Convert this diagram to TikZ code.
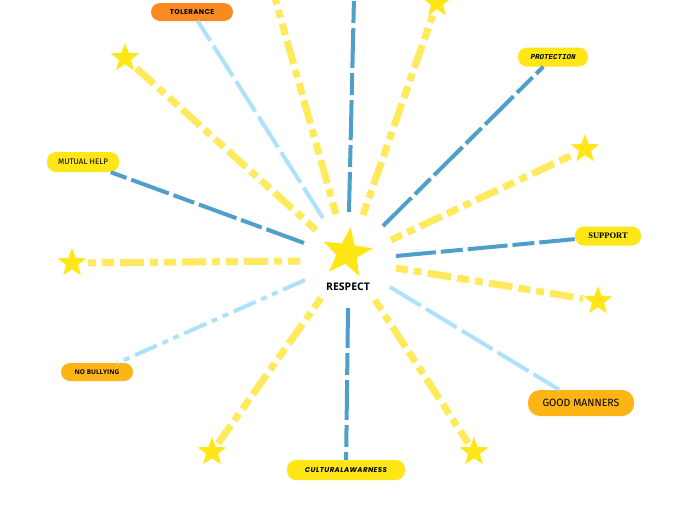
\documentclass[tikz,border=0pt]{standalone}
\usepackage{fontspec}
\setmainfont{Open Sans}
\newfontfamily\heavyfont[LetterSpace=6]{Poppins}
\newfontfamily\monofnt{Liberation Mono}
\newfontfamily\seriffnt{Liberation Serif}
\newfontfamily\handfnt{Fira Sans}
\usetikzlibrary{shapes.geometric}
\definecolor{ystar}{HTML}{FFE617}
\definecolor{ydash}{HTML}{FFE95C}
\definecolor{dblue}{HTML}{4F9FCB}
\definecolor{lblue}{HTML}{AEE2FA}
\definecolor{orng}{HTML}{F78B1F}
\definecolor{gold}{HTML}{FDB515}
\begin{document}
\begin{tikzpicture}[x=1pt,y=-1pt,
  pill/.style={rounded corners=9pt, inner sep=0pt, minimum height=19pt, text=black},
  starnode/.style={star, star points=5, star point ratio=2.4, fill=ystar, draw=none, minimum size=30pt, inner sep=0pt},
  yline/.style={ydash, line width=7pt, dash pattern=on 12pt off 6pt on 8pt off 6pt on 24pt off 6pt},
  dline/.style={dblue, line width=4pt, dash pattern=on 40pt off 5pt on 22pt off 5pt},
  lline/.style={lblue, line width=4pt, dash pattern=on 36pt off 6pt},
  dotline/.style={lblue, line width=4pt, dash pattern=on 24pt off 6pt on 6pt off 6pt on 6pt off 6pt},
]
\clip (0,0) rectangle (696,520);
\fill[white] (0,0) rectangle (696,520);

% centre
\node[star, star points=5, star point ratio=2.4, fill=ystar, minimum size=52pt, inner sep=0pt, rotate=-8] (c) at (347,253) {};
\node[font=\bfseries\fontsize{10.5}{12}\selectfont] (resp) at (348,287) {RESPECT};

% pills
\node[pill, fill=orng, minimum width=82pt, minimum height=18pt, font=\heavyfont\bfseries\fontsize{7}{8}\selectfont] (tol) at (192,12) {TOLERANCE};
\node[pill, fill=ystar, minimum width=70pt, font=\monofnt\bfseries\itshape\fontsize{7.5}{8}\selectfont] (prot) at (553,57) {PROTECTION};
\node[pill, fill=ystar, minimum width=66pt, font=\seriffnt\bfseries\fontsize{8.5}{9}\selectfont] (supp) at (608,236) {SUPPORT};
\node[pill, fill=gold, minimum width=106pt, minimum height=26pt, rounded corners=12pt, font=\handfnt\fontsize{10.5}{11}\selectfont] (good) at (581,403) {GOOD MANNERS};
\node[pill, fill=ystar, minimum width=118pt, minimum height=20pt, font=\heavyfont\bfseries\itshape\fontsize{7}{8}\selectfont] (cult) at (346,470) {CULTURALAWARNESS};
\node[pill, fill=gold, minimum width=72pt, minimum height=18pt, font=\bfseries\fontsize{6.5}{7}\selectfont] (nob) at (97,372) {NO BULLYING};
\node[pill, fill=ystar, minimum width=72pt, minimum height=20pt, font=\handfnt\fontsize{8}{9}\selectfont] (mut) at (83,162) {MUTUAL HELP};

% outer stars
\node[starnode] (s1) at (437,3) {};
\node[starnode] (s2) at (585,149) {};
\node[starnode] (s3) at (598,301) {};
\node[starnode] (s4) at (474,452) {};
\node[starnode] (s5) at (212,452) {};
\node[starnode] (s6) at (72,263) {};
\node[starnode] (s7) at (125,58) {};
\coordinate (topy) at (275,-2);
\coordinate (topb) at (354,-2);

% inner start points
\coordinate (i1) at (323,218);
\coordinate (i2) at (336,214);
\coordinate (i3) at (349,212);
\coordinate (i4) at (363,215);
\coordinate (i5) at (383,226);
\coordinate (i6) at (391,240);
\coordinate (i7) at (396,256);
\coordinate (i8) at (396,268);
\coordinate (i9) at (390,287);
\coordinate (i10) at (375,300);
\coordinate (i11) at (348,308);
\coordinate (i12) at (321,298);
\coordinate (i13) at (305,280);
\coordinate (i14) at (300,261);
\coordinate (i15) at (304,243);
\coordinate (i16) at (316,230);

% connectors
\draw[lline] (i1) -- (tol);
\draw[yline] (i2) -- (topy);
\draw[dline] (i3) -- (topb);
\draw[yline, shorten >=4pt] (i4) -- (s1);
\draw[dline] (i5) -- (prot);
\draw[yline, shorten >=4pt] (i6) -- (s2);
\draw[dline] (i7) -- (supp);
\draw[yline, shorten >=4pt] (i8) -- (s3);
\draw[lline] (i9) -- (good);
\draw[yline, shorten >=4pt] (i10) -- (s4);
\draw[dline] (i11) -- (cult);
\draw[yline, shorten >=4pt] (i12) -- (s5);
\draw[dotline] (i13) -- (nob);
\draw[yline, shorten >=6pt] (i14) -- (s6);
\draw[dline] (i15) -- (mut);
\draw[yline, shorten >=4pt] (i16) -- (s7);
\end{tikzpicture}
\end{document}
